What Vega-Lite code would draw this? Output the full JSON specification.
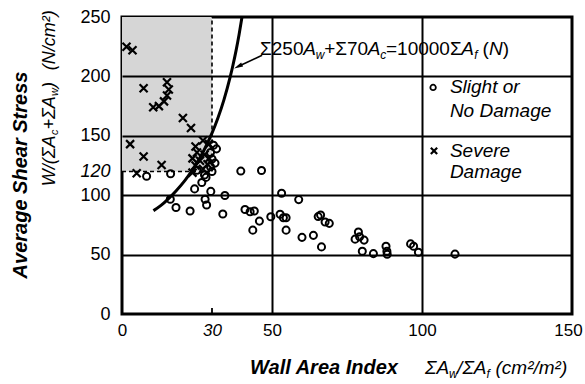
{
  "$schema": "https://vega.github.io/schema/vega-lite/v6.json",
  "width": 450,
  "height": 297,
  "autosize": "none",
  "padding": {"left": 122, "top": 17, "right": 13, "bottom": 70},
  "background": "white",
  "config": {"view": {"stroke": "black", "strokeWidth": 3}, "font": "Liberation Sans"},
  "encoding": {
    "x": {"field": "x", "type": "quantitative", "scale": {"domain": [0, 150], "nice": false, "zero": false},
      "axis": {"values": [0, 30, 50, 100, 150], "title": null, "ticks": false, "domain": false, "labelFontSize": 17, "labelColor": "black", "labelPadding": 8, "labelFlush": false, "labelOverlap": false,
        "labelFontStyle": {"condition": {"test": "datum.value === 30", "value": "italic"}, "value": "normal"},
        "labelOffset": {"condition": {"test": "datum.value === 150", "value": -4}, "value": 0},
        "grid": true, "gridColor": "black", "gridWidth": 2,
        "gridOpacity": {"condition": {"test": "datum.value === 50 || datum.value === 100", "value": 1}, "value": 0}, "zindex": 1}},
    "y": {"field": "y", "type": "quantitative", "scale": {"domain": [0, 250], "nice": false, "zero": false},
      "axis": {"values": [0, 50, 100, 120, 150, 200, 250], "title": null, "ticks": false, "domain": false, "labelFontSize": 18, "labelColor": "black", "labelPadding": 12, "labelFlush": false, "labelOverlap": false,
        "labelFontStyle": {"condition": {"test": "datum.value === 120", "value": "italic"}, "value": "normal"},
        "grid": true, "gridColor": "black", "gridWidth": 2,
        "gridOpacity": {"condition": {"test": "datum.value === 50 || datum.value === 100 || datum.value === 150 || datum.value === 200", "value": 1}, "value": 0}, "zindex": 1}}
  },
  "layer": [
    {"data": {"values": [{"x": 0, "x2": 30, "y": 120, "y2": 250}]},
     "mark": {"type": "rect", "fill": "#d6d6d6"},
     "encoding": {"x2": {"field": "x2"}, "y2": {"field": "y2"}}},
    {"data": {"values": [{"x": 30, "y": 120, "y2": 250}]},
     "mark": {"type": "rule", "color": "black", "strokeWidth": 1.6, "strokeDash": [4, 3]},
     "encoding": {"y2": {"field": "y2"}}},
    {"data": {"values": [{"x": 0, "x2": 30, "y": 120}]},
     "mark": {"type": "rule", "color": "black", "strokeWidth": 1.6, "strokeDash": [4, 3]},
     "encoding": {"x2": {"field": "x2"}}},
    {"data": {"values": [{"x": 30, "y": 0, "y2": 5}]},
     "mark": {"type": "rule", "color": "black", "strokeWidth": 1.8},
     "encoding": {"y2": {"field": "y2"}}},
    {"data": {"values": [
      {"x": 10.5, "y": 87}, {"x": 13, "y": 91.4}, {"x": 15, "y": 95.9}, {"x": 18, "y": 103.6}, {"x": 21, "y": 112.5},
      {"x": 24, "y": 123.2}, {"x": 27, "y": 136.2}, {"x": 30, "y": 152.2}, {"x": 32, "y": 165.1}, {"x": 34, "y": 180.4},
      {"x": 36, "y": 198.9}, {"x": 37, "y": 209.6}, {"x": 38, "y": 221.5}, {"x": 39, "y": 234.9}, {"x": 40, "y": 250}]},
     "mark": {"type": "line", "color": "black", "strokeWidth": 3, "interpolate": "monotone"},
     "encoding": {"order": {"field": "x", "type": "quantitative"}}},
    {"data": {"values": [
      {"x": 8.2, "y": 116}, {"x": 16.2, "y": 118}, {"x": 30.5, "y": 142}, {"x": 31.5, "y": 139}, {"x": 29.5, "y": 136},
      {"x": 30, "y": 130.5}, {"x": 29.5, "y": 124}, {"x": 30, "y": 120}, {"x": 27.5, "y": 117}, {"x": 26.6, "y": 110.7},
      {"x": 28, "y": 115}, {"x": 25, "y": 121}, {"x": 31, "y": 127}, {"x": 39.6, "y": 120.3}, {"x": 46.5, "y": 120.8},
      {"x": 24.2, "y": 105.3}, {"x": 29.6, "y": 103.2}, {"x": 34.3, "y": 99.7}, {"x": 27.7, "y": 96.6}, {"x": 28.2, "y": 91.7},
      {"x": 16.1, "y": 96.6}, {"x": 18, "y": 89.6}, {"x": 22.7, "y": 86.7}, {"x": 33.6, "y": 84.2}, {"x": 53.2, "y": 101.7},
      {"x": 58.9, "y": 96.3}, {"x": 41, "y": 88}, {"x": 42.7, "y": 86}, {"x": 44.1, "y": 86.7}, {"x": 45.8, "y": 78.2},
      {"x": 43.6, "y": 70.6}, {"x": 49.6, "y": 81.8}, {"x": 52.7, "y": 83.9}, {"x": 53.8, "y": 81}, {"x": 54.7, "y": 81},
      {"x": 54.7, "y": 70.6}, {"x": 60, "y": 64.5}, {"x": 63.8, "y": 66.2}, {"x": 66.5, "y": 56.5}, {"x": 65.4, "y": 82},
      {"x": 66.2, "y": 83.3}, {"x": 67.7, "y": 77.4}, {"x": 69.1, "y": 76.3}, {"x": 78.8, "y": 69}, {"x": 77.7, "y": 63},
      {"x": 79.2, "y": 65}, {"x": 80.7, "y": 62.2}, {"x": 80.1, "y": 52.8}, {"x": 83.8, "y": 50.8}, {"x": 88, "y": 57},
      {"x": 88.3, "y": 52.8}, {"x": 88.4, "y": 50.3}, {"x": 96.2, "y": 59}, {"x": 97.2, "y": 57}, {"x": 98.8, "y": 52},
      {"x": 111, "y": 50.4}]},
     "mark": {"type": "point", "shape": "circle", "filled": false, "color": "black", "strokeWidth": 2, "size": 50, "opacity": 1}},
    {"data": {"values": [
      {"x": 1.5, "y": 225}, {"x": 3.5, "y": 222}, {"x": 7.2, "y": 190}, {"x": 15, "y": 195}, {"x": 15.6, "y": 189},
      {"x": 15, "y": 184}, {"x": 10.4, "y": 174}, {"x": 12.3, "y": 175}, {"x": 14, "y": 179}, {"x": 20.3, "y": 165},
      {"x": 23, "y": 156.5}, {"x": 2.7, "y": 143}, {"x": 7.2, "y": 132.5}, {"x": 13.2, "y": 125.5}, {"x": 4.9, "y": 118.5},
      {"x": 24.5, "y": 141}, {"x": 27, "y": 146}, {"x": 29, "y": 143}, {"x": 25, "y": 136}, {"x": 27.5, "y": 134},
      {"x": 23.5, "y": 131}, {"x": 26, "y": 129}, {"x": 29, "y": 131}, {"x": 24.5, "y": 125}, {"x": 27, "y": 122},
      {"x": 23.5, "y": 119}, {"x": 28.5, "y": 126}]},
     "mark": {"type": "point", "shape": "M-1,-1L1,1M-1,1L1,-1", "filled": false, "color": "black", "strokeWidth": 2.2, "size": 64, "opacity": 1}},
    {"data": {"values": [{"x": 46.7, "y": 217.8}, {"x": 38.7, "y": 208.4}]},
     "mark": {"type": "line", "color": "black", "strokeWidth": 1.6},
     "encoding": {}},
    {"data": {"values": [{"x": 38.7, "y": 208.4}]},
     "mark": {"type": "point", "shape": "M0,-1L0.5,1L-0.5,1Z", "filled": true, "color": "black", "size": 80, "angle": 244, "opacity": 1}},
    {"data": {"values": [{"x": 46.0, "y": 218, "t": "Σ250"}, {"x": 67.4, "y": 218, "t": "+Σ70"}, {"x": 88.0, "y": 218, "t": "=10000Σ"}, {"x": 120.2, "y": 218, "t": "("}, {"x": 126.9, "y": 218, "t": ")"}]},
     "mark": {"type": "text", "align": "left", "baseline": "alphabetic", "fontSize": 19, "color": "black"},
     "encoding": {"text": {"field": "t"}}},
    {"data": {"values": [{"x": 60.4, "y": 218, "t": "A"}, {"x": 81.9, "y": 218, "t": "A"}, {"x": 113.1, "y": 218, "t": "A"}, {"x": 122.3, "y": 218, "t": "N"}]},
     "mark": {"type": "text", "align": "left", "baseline": "alphabetic", "fontSize": 19, "fontStyle": "italic", "color": "black"},
     "encoding": {"text": {"field": "t"}}},
    {"data": {"values": [{"x": 64.6, "y": 218, "t": "w"}, {"x": 86.1, "y": 218, "t": "c"}, {"x": 117.4, "y": 218, "t": "f"}]},
     "mark": {"type": "text", "align": "left", "baseline": "alphabetic", "fontSize": 12, "fontStyle": "italic", "dy": 4, "color": "black"},
     "encoding": {"text": {"field": "t"}}},
    {"data": {"values": [{"x": 103.7, "y": 190.7}]},
     "mark": {"type": "point", "shape": "circle", "filled": false, "color": "black", "strokeWidth": 1.8, "size": 30, "opacity": 1}},
    {"data": {"values": [{"x": 104, "y": 137.3}]},
     "mark": {"type": "point", "shape": "M-1,-1L1,1M-1,1L1,-1", "filled": false, "color": "black", "strokeWidth": 2.2, "size": 40, "opacity": 1}},
    {"data": {"values": [{"x": 109.3, "y": 190.7, "t": "Slight or"}, {"x": 109.3, "y": 171.2, "t": "No Damage"}, {"x": 109.3, "y": 137.3, "t": "Severe"}, {"x": 109.3, "y": 119.5, "t": "Damage"}]},
     "mark": {"type": "text", "align": "left", "baseline": "middle", "fontSize": 19, "fontStyle": "italic", "color": "black"},
     "encoding": {"text": {"field": "t"}}},
    {"data": {"values": [{"x": -33.7, "y": 117, "t": "Average Shear Stress"}]},
     "mark": {"type": "text", "align": "center", "baseline": "middle", "angle": 270, "fontSize": 20, "fontStyle": "italic", "fontWeight": "bold", "color": "black"},
     "encoding": {"text": {"field": "t"}}},
    {"data": {"values": [{"x": -24, "y": 107.6, "t": "W/(ΣA"}, {"x": -24, "y": 155.3, "t": "+ΣA"}, {"x": -24, "y": 190.3, "t": ")"}, {"x": -24, "y": 205.1, "t": "(N/cm²)"}]},
     "mark": {"type": "text", "align": "left", "baseline": "middle", "angle": 270, "fontSize": 18, "fontStyle": "italic", "color": "black"},
     "encoding": {"text": {"field": "t"}}},
    {"data": {"values": [{"x": -24, "y": 150.7, "t": "c"}, {"x": -24, "y": 183.6, "t": "w"}]},
     "mark": {"type": "text", "align": "left", "baseline": "middle", "angle": 270, "fontSize": 11, "fontStyle": "italic", "dy": 5, "color": "black"},
     "encoding": {"text": {"field": "t"}}},
    {"data": {"values": [{"x": 42.7, "y": -50.8, "t": "Wall Area Index"}]},
     "mark": {"type": "text", "align": "left", "baseline": "alphabetic", "fontSize": 20, "fontStyle": "italic", "fontWeight": "bold", "color": "black"},
     "encoding": {"text": {"field": "t"}}},
    {"data": {"values": [{"x": 101, "y": -50.8, "t": "ΣA"}, {"x": 111.7, "y": -50.8, "t": "/ΣA"}, {"x": 124.5, "y": -50.8, "t": "(cm²/m²)"}]},
     "mark": {"type": "text", "align": "left", "baseline": "alphabetic", "fontSize": 19, "fontStyle": "italic", "color": "black"},
     "encoding": {"text": {"field": "t"}}},
    {"data": {"values": [{"x": 109, "y": -50.8, "t": "w"}, {"x": 121.5, "y": -50.8, "t": "f"}]},
     "mark": {"type": "text", "align": "left", "baseline": "alphabetic", "fontSize": 12, "fontStyle": "italic", "dy": 4, "color": "black"},
     "encoding": {"text": {"field": "t"}}}
  ]
}
